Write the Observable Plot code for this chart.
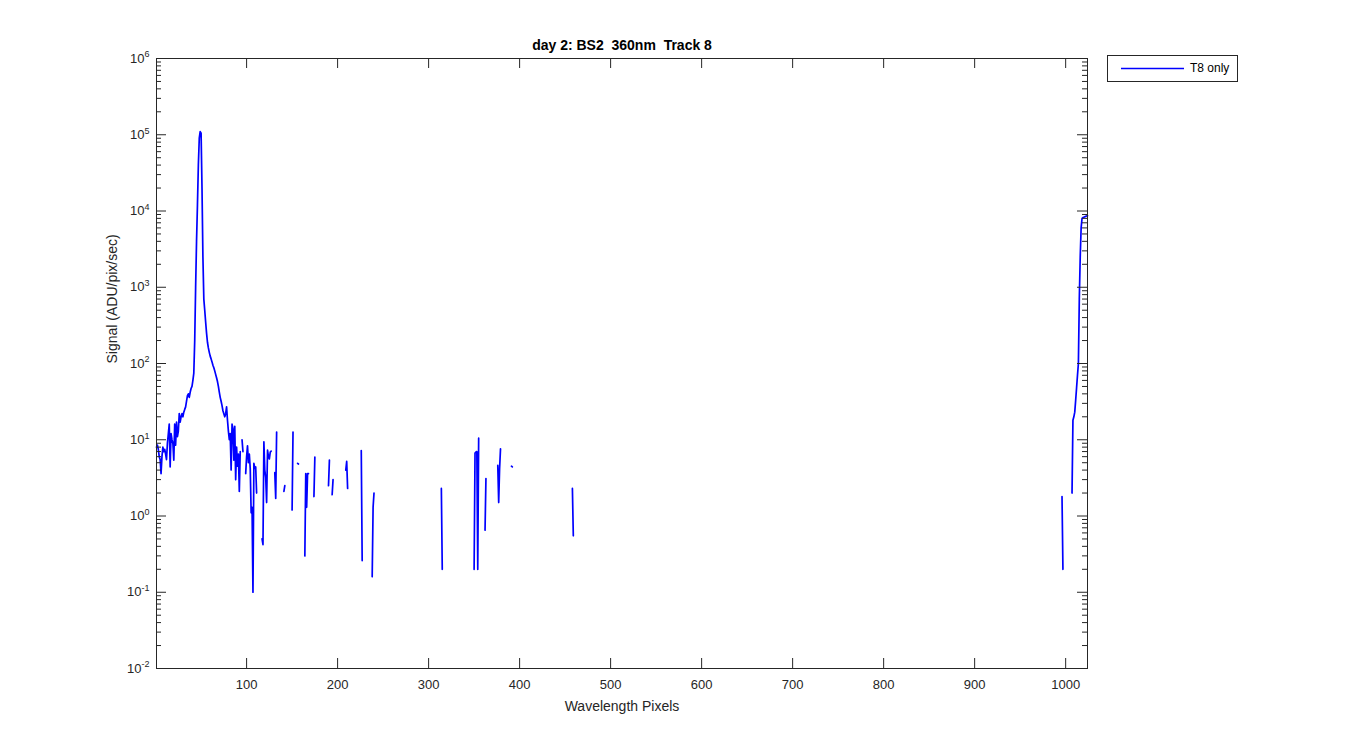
<!DOCTYPE html>
<html><head><meta charset="utf-8">
<script src="https://cdn.jsdelivr.net/npm/d3@7"></script>
<script src="https://cdn.jsdelivr.net/npm/@observablehq/plot@0.6"></script>
<style>
html,body{margin:0;padding:0;background:#fff;}
#wrap{position:relative;width:1350px;height:750px;}
#wrap svg text{white-space:pre;}
#legend{position:absolute;left:1107px;top:55px;width:129px;height:25px;border:1px solid #262626;background:#fff;font-family:'Liberation Sans',Arial,sans-serif;font-size:12px;color:#000;}
#legend svg{position:absolute;left:0;top:0;}
#legend span{position:absolute;left:82px;top:5px;line-height:14px;}
</style></head><body><div id="wrap"><div id="legend"></div></div>
<script>
const chartTitle = "day 2: BS2  360nm  Track 8";
const xLabel = "Wavelength Pixels";
const yLabel = "Signal (ADU/pix/sec)";
const seriesName = "T8 only";
const xTicks = [100, 200, 300, 400, 500, 600, 700, 800, 900, 1000];
const yDecades = [-2, -1, 0, 1, 2, 3, 4, 5, 6];
const minorMultipliers = [2, 3, 4, 5, 6, 7, 8, 9];

// contiguous block: pixels 1..93
const denseStart = 1;
const denseSignal = [
  8, 8.5, 7.5, 6, 5.5, 3.6, 6, 8, 7, 7.5,
  6.5, 5.5, 9, 12, 16, 4.4, 12, 10, 9, 5.4,
  16, 8.5, 17, 11, 13, 22, 17, 20, 22, 20,
  23, 25, 27, 32, 38, 40, 36, 42, 47, 50,
  60, 75, 200, 1000, 4000, 12000, 40000, 90000, 110000, 105000,
  20000, 2500, 700, 500, 350, 250, 190, 160, 140, 125,
  115, 105, 95, 88, 80, 72, 65, 58, 50, 42,
  36, 32, 28, 24, 22, 20, 22, 27, 18, 13,
  10, 12, 4.0, 16, 14, 5.4, 15, 3.0, 8, 4.5,
  6.5, 2.1, 7
];

// short fragments (gaps = non-positive values not shown on log axis)
const segmentStarts = [95, 99, 117, 131, 141, 150, 156, 164, 174, 190, 194, 209, 226, 238, 314, 350, 362, 376, 391, 458, 996, 1007];
const segmentSignals = [
  [10, 7],
  [3.6, 6, 8.3, 5, 6.5, 4.2, 1.1, 1.3, 0.1, 4.9, 4.2, 4.4, 2.0],
  [0.5, 0.42, 9.4, 4.0, 3.2, 1.5, 7.3, 6.0, 5.6, 6.9, 7.1],
  [3.7, 1.7, 12.6],
  [2.1, 2.5],
  [1.2, 12.6],
  [4.9, 4.8],
  [0.3, 3.6, 1.3, 3.6, 3.6],
  [1.8, 5.9],
  [2.5, 5.4],
  [1.9, 3.0],
  [4.0, 5.2, 2.3],
  [7.2, 0.26],
  [0.16, 1.3, 2.0],
  [2.3, 0.2],
  [0.2, 6.7, 6.9, 7.0, 0.2, 10.5],
  [0.65, 3.1],
  [4.6, 1.5, 4.2, 7.6],
  [4.5, 4.4],
  [2.3, 0.55],
  [1.8, 0.2],
  [2.0, 18, 20, 23, 33, 48, 70, 100, 700, 2500, 6000, 8000, 8200, 8300, 8400, 8500, 8600, 8700]
];

const rows = [];
denseSignal.forEach((v, i) => rows.push({pixel: denseStart + i, signal: v, seg: 0}));
segmentStarts.forEach((s, j) => {
  segmentSignals[j].forEach((v, i) => rows.push({pixel: s + i, signal: v, seg: j + 1}));
});

const yMajor = yDecades.map(k => Math.pow(10, k));
const yMinor = [];
yDecades.slice(0, -1).forEach(k => minorMultipliers.forEach(m => yMinor.push(m * Math.pow(10, k))));

const W = 1350, H = 750;
const mL = 156, mR = 263, mT = 58, mB = 82;
const fw = W - mL - mR, fh = H - mT - mB;
const axisColor = "#262626";

const plot = Plot.plot({
  width: W, height: H,
  marginLeft: mL, marginRight: mR, marginTop: mT, marginBottom: mB,
  style: {fontFamily: "'Liberation Sans', Arial, sans-serif", fontSize: "13px", color: axisColor, background: "#fff", overflow: "visible"},
  x: {domain: [1, 1024]},
  y: {type: "log", domain: [0.01, 1e6]},
  marks: [
    Plot.line(rows, {x: "pixel", y: "signal", z: "seg", stroke: "#0000ff", strokeWidth: 1.7}),
    Plot.frame({stroke: axisColor, strokeWidth: 1}),
    Plot.tickX(xTicks, {x: d => d, insetTop: fh - 10, stroke: axisColor}),
    Plot.tickX(xTicks, {x: d => d, insetBottom: fh - 10, stroke: axisColor}),
    Plot.tickY(yMajor, {y: d => d, insetRight: fw - 10, stroke: axisColor}),
    Plot.tickY(yMajor, {y: d => d, insetLeft: fw - 10, stroke: axisColor}),
    Plot.tickY(yMinor, {y: d => d, insetRight: fw - 5, stroke: axisColor}),
    Plot.tickY(yMinor, {y: d => d, insetLeft: fw - 5, stroke: axisColor}),
    Plot.axisX({ticks: xTicks, tickSize: 0, tickPadding: 11, label: null, tickFormat: d => String(d), fontSize: 13}),
    Plot.axisY({ticks: yMajor, tickSize: 0, tickPadding: 7, label: null, tickFormat: d => "10^" + Math.round(Math.log10(d)), fontSize: 13}),
    Plot.text([chartTitle], {text: d => d, frameAnchor: "top", lineAnchor: "middle", dy: -13, fontWeight: "bold", fontSize: 14, fill: "#000"}),
    Plot.text([xLabel], {text: d => d, frameAnchor: "bottom", lineAnchor: "middle", dy: 38, fontSize: 14, fill: axisColor}),
    Plot.text([yLabel], {text: d => d, frameAnchor: "left", lineAnchor: "middle", dx: -44, rotate: -90, fontSize: 14, fill: axisColor})
  ]
});

// superscript exponents on the log axis labels
const NS = "http://www.w3.org/2000/svg";
plot.querySelectorAll('g[aria-label="y-axis tick label"] text').forEach(t => {
  const parts = t.textContent.split("^");
  if (parts.length !== 2) return;
  t.textContent = "";
  const a = document.createElementNS(NS, "tspan");
  a.textContent = parts[0];
  const b = document.createElementNS(NS, "tspan");
  b.textContent = parts[1];
  b.setAttribute("font-size", "9");
  b.setAttribute("dy", "-0.6em");
  t.appendChild(a); t.appendChild(b);
});

const wrap = document.getElementById("wrap");
wrap.insertBefore(plot, wrap.firstChild);
plot.style.position = "absolute"; plot.style.left = "0"; plot.style.top = "0";

// legend
const legend = document.getElementById("legend");
const ls = d3.create("svg").attr("width", 129).attr("height", 25);
ls.append("line").attr("x1", 13).attr("x2", 76).attr("y1", 12.5).attr("y2", 12.5)
  .attr("stroke", "#0000ff").attr("stroke-width", 1.7);
legend.appendChild(ls.node());
const lt = document.createElement("span");
lt.textContent = seriesName;
legend.appendChild(lt);
</script>
</body></html>
